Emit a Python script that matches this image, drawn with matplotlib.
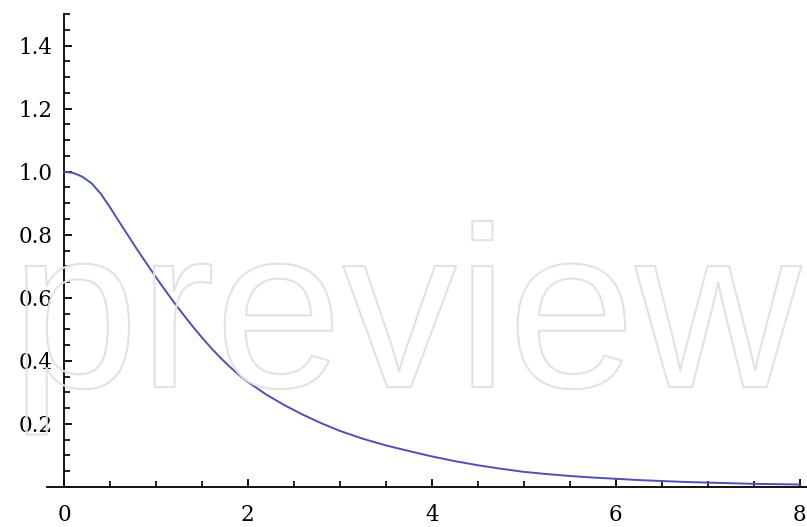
import matplotlib
matplotlib.use("Agg")
import matplotlib.pyplot as plt
import matplotlib.patheffects as pe
from matplotlib.ticker import MultipleLocator, FixedLocator

# Data
x_vals = [0.0, 0.1, 0.2, 0.3, 0.4, 0.5, 0.6, 0.7, 0.8, 0.9, 1.0,
          1.1, 1.2, 1.3, 1.4, 1.5, 1.6, 1.7, 1.8, 1.9, 2.0,
          2.2, 2.4, 2.6, 2.8, 3.0, 3.25, 3.5, 3.75, 4.0, 4.25, 4.5,
          4.75, 5.0, 5.25, 5.5, 5.75, 6.0, 6.25, 6.5, 6.75, 7.0,
          7.25, 7.5, 7.75, 8.0]
y_vals = [1.000, 0.996, 0.984, 0.963, 0.930, 0.887, 0.841, 0.796, 0.751,
          0.708, 0.665, 0.624, 0.584, 0.546, 0.509, 0.474, 0.441, 0.410,
          0.382, 0.356, 0.333, 0.293, 0.259, 0.229, 0.202, 0.178, 0.153,
          0.132, 0.114, 0.097, 0.082, 0.069, 0.058, 0.048, 0.041, 0.035,
          0.030, 0.026, 0.022, 0.019, 0.016, 0.014, 0.012, 0.010, 0.009,
          0.008]

x_ticks = [0, 2, 4, 6, 8]
x_tick_labels = ["0", "2", "4", "6", "8"]
y_ticks = [0.2, 0.4, 0.6, 0.8, 1.0, 1.2, 1.4]
y_tick_labels = ["0.2", "0.4", "0.6", "0.8", "1.0", "1.2", "1.4"]

W, H = 807, 527
fig = plt.figure(figsize=(W / 100, H / 100), dpi=100)
ax = fig.add_axes([47 / W, (H - 487) / H, 760 / W, 473 / H])
ax.set_xlim(-0.185, 8.08)
ax.set_ylim(0, 1.5)

# watermark
fig.text(406 / W, (H - 387) / H, "preview", ha="center", va="baseline",
         fontsize=165, family="Liberation Sans", color="none",
         path_effects=[pe.withStroke(linewidth=1.5, foreground="#e2e2e2")],
         zorder=0)

ax.patch.set_alpha(0)
ax.plot(x_vals, y_vals, color="#4f4fb5", lw=1.4, zorder=3, clip_on=False,
        solid_joinstyle="round")

for s in ["top", "right"]:
    ax.spines[s].set_visible(False)
ax.spines["left"].set_position(("data", 0))
ax.spines["left"].set_linewidth(1.3)
ax.spines["bottom"].set_linewidth(1.3)

ax.xaxis.set_major_locator(FixedLocator(x_ticks))
ax.set_xticklabels(x_tick_labels)
ax.xaxis.set_minor_locator(MultipleLocator(0.5))
ax.yaxis.set_major_locator(FixedLocator(y_ticks))
ax.set_yticklabels(y_tick_labels)
ax.yaxis.set_minor_locator(MultipleLocator(0.05))

ax.tick_params(which="major", direction="in", length=6, width=1.3,
               color="black")
ax.tick_params(which="minor", direction="in", length=4, width=1.2,
               color="black")
ax.tick_params(axis="x", which="major", pad=12)
ax.tick_params(axis="y", which="major", pad=8)
for lab in ax.get_xticklabels() + ax.get_yticklabels():
    lab.set_family("DejaVu Serif")
    lab.set_fontsize(15.5)
    lab.set_color("black")

fig.savefig("out.png", dpi=100)
